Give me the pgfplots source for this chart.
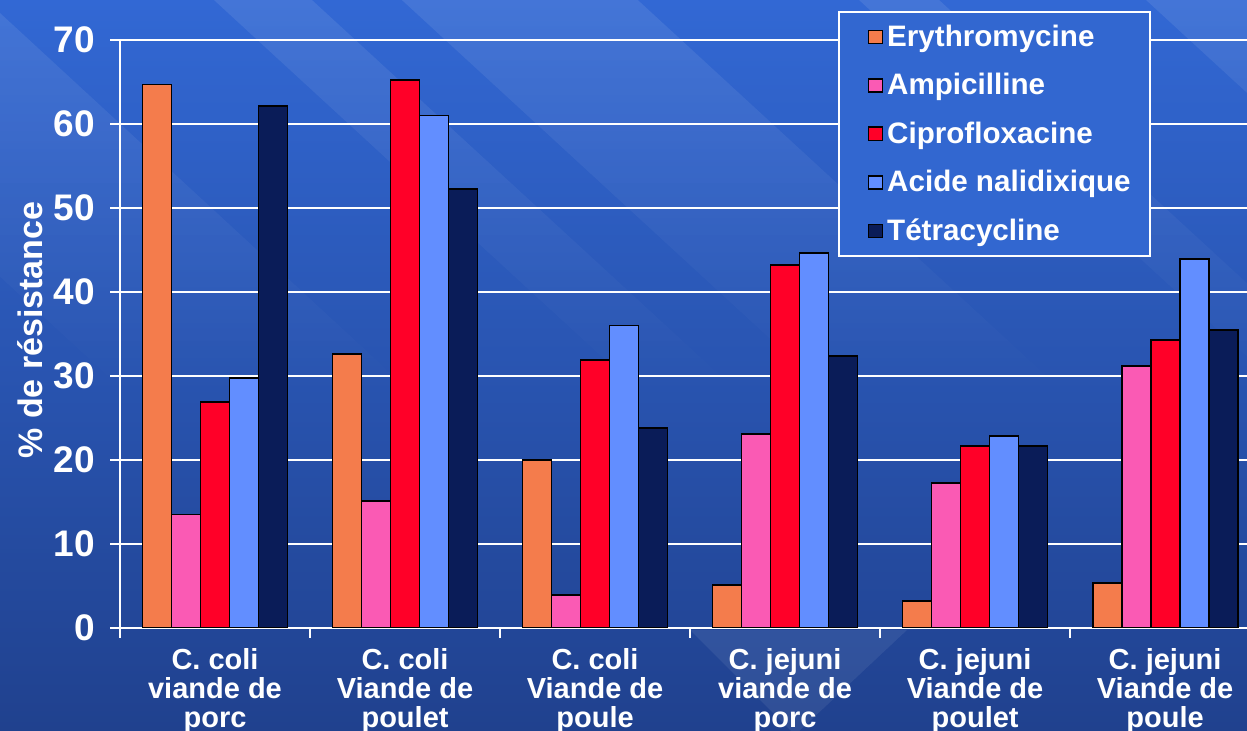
\documentclass[border=0pt]{standalone}
\usepackage{pgfplots}
\pgfplotsset{compat=1.18}
\usetikzlibrary{fadings}
\usepackage{fontspec}
\setmainfont{Liberation Sans}
\definecolor{cEry}{RGB}{244,124,76}
\definecolor{cAmp}{RGB}{250,90,180}
\definecolor{cCip}{RGB}{255,0,40}
\definecolor{cNal}{RGB}{98,142,255}
\definecolor{cTet}{RGB}{10,28,88}
\definecolor{bgTop}{RGB}{50,104,212}
\definecolor{bgBot}{RGB}{32,65,142}
\definecolor{bgLeg}{RGB}{50,103,208}
\pgfplotsset{
  mybar/.style={fill=#1, draw=black, line width=0.9pt,
    legend image code/.code={\path (0pt,0pt); \draw[fill=#1, draw=black, line width=0.8pt] (6.8pt,-3.3pt) rectangle (13.8pt,3.3pt);}},
}
\begin{document}
\begin{tikzpicture}[x=1pt,y=1pt]
\shade[bottom color=bgBot, top color=bgTop] (0,0) rectangle (623.5,365.5);
\begin{scope}
\clip (0,0) rectangle (623.5,365.5);
\begin{scope}[shift={(0pt,365.5pt)}, x=0.5pt, y=-0.5pt]
\fill[white, opacity=0.09, path fading=south] (-300,0) -- (-14,0) -- (420,400) -- (134,400) -- cycle;
\fill[white, opacity=0.09, path fading=south] (214,0) -- (312,0) -- (747,400) -- (649,400) -- cycle;
\fill[white, opacity=0.09, path fading=south] (402,0) -- (638,0) -- (1073,400) -- (837,400) -- cycle;
\fill[white, opacity=0.09, path fading=south] (859,0) -- (939,0) -- (1374,400) -- (1294,400) -- cycle;
\fill[white, opacity=0.09, path fading=south] (1146,0) -- (1300,0) -- (1735,400) -- (1581,400) -- cycle;
\fill[white, opacity=0.07] (690,630) -- (907,630) -- (795,735) -- cycle;
\end{scope}
\end{scope}
\begin{axis}[
  at={(60pt,51.5pt)}, anchor=south west,
  scale only axis, width=563.5pt, height=294pt,
  xmin=-0.5, xmax=5.431, ymin=0, ymax=70,
  axis x line=bottom, axis y line=left,
  axis line style={white, line width=1pt, -},
  ybar=0pt, bar width=14.5pt,
  xtick={-0.5,0.5,...,5.5}, xticklabels={},
  extra x ticks={0,1,2,3,4,5},
  extra x tick labels={{C. coli\\viande de\\porc},{C. coli\\Viande de\\poulet},{C. coli\\Viande de\\poule},{C. jejuni\\viande de\\porc},{C. jejuni\\Viande de\\poulet},{C. jejuni\\Viande de\\poule}},
  extra x tick style={major tick length=0pt},
  ytick={0,10,...,70},
  tick style={white, line width=1pt},
  tick align=outside, major tick length=5pt,
  ymajorgrids, grid style={white, line width=1pt},
  /pgf/number format/assume math mode=true,
  x tick label style={align=center, text=white, font=\fontsize{14.5}{14.5}\selectfont\bfseries, yshift=-6.5pt},
  y tick label style={text=white, font=\fontsize{18.5}{18.5}\selectfont\bfseries, xshift=-4pt},
  ylabel={\% de résistance},
  ylabel style={font=\fontsize{17}{17}\selectfont\bfseries, text=white, at={(axis description cs:0,0.5)}, anchor=center, xshift=2pt, yshift=45pt},
  legend style={at={(rel axis cs:0.637,1.049)}, anchor=north west, draw=white, line width=1pt, fill=bgLeg, text=white,
    font=\fontsize{14.8}{14.8}\selectfont\bfseries, inner xsep=7.5pt, inner ysep=4.3pt, row sep=8pt,
    /tikz/every even column/.append style={column sep=2.5pt}},
  legend cell align=left,
]
\addplot[mybar=cEry] coordinates {(0,64.7) (1,32.6) (2,20.0) (3,5.1) (4,3.2) (5,5.4)};
\addplot[mybar=cAmp] coordinates {(0,13.5) (1,15.1) (2,3.9) (3,23.1) (4,17.3) (5,31.2)};
\addplot[mybar=cCip] coordinates {(0,26.9) (1,65.2) (2,31.9) (3,43.2) (4,21.7) (5,34.3)};
\addplot[mybar=cNal] coordinates {(0,29.8) (1,61.0) (2,36.0) (3,44.6) (4,22.9) (5,43.9)};
\addplot[mybar=cTet] coordinates {(0,62.1) (1,52.3) (2,23.8) (3,32.4) (4,21.7) (5,35.5)};
\legend{Erythromycine,Ampicilline,Ciprofloxacine,Acide nalidixique,Tétracycline}
\end{axis}
\pgfresetboundingbox
\useasboundingbox (0,0) rectangle (623.5,365.5);
\end{tikzpicture}
\end{document}
